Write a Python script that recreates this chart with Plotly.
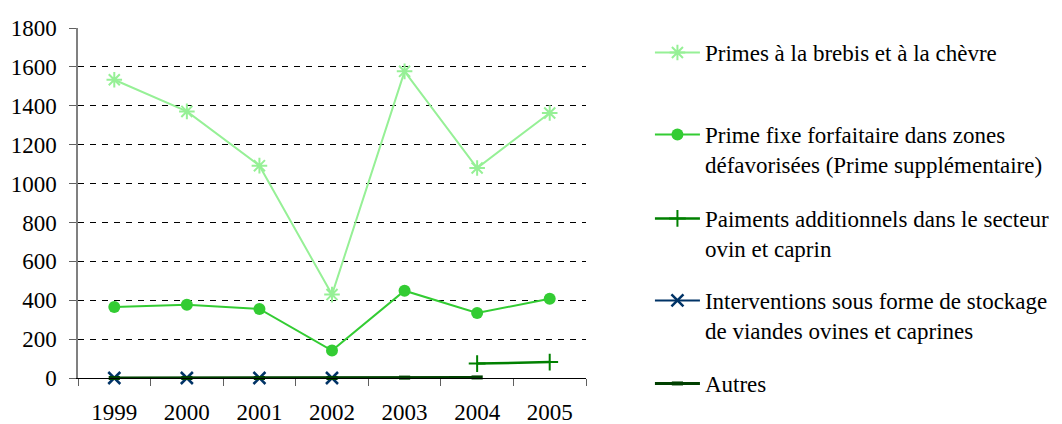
import plotly.graph_objects as go

years = ["1999", "2000", "2001", "2002", "2003", "2004", "2005"]
primes_brebis = [1534, 1371, 1092, 429, 1577, 1080, 1363]
prime_fixe = [365, 377, 355, 141, 449, 334, 408]
paiements_add = [None, None, None, None, None, 74, 82]
interventions = [0, 0, 0, 0, None, None, None]
autres = [0, 0, 0, 0, 2, 3, None]

names = [
    "Primes à la brebis et à la chèvre",
    "Prime fixe forfaitaire dans zones<br>défavorisées (Prime supplémentaire)",
    "Paiments additionnels dans le secteur<br>ovin et caprin",
    "Interventions sous forme de stockage<br>de viandes ovines et caprines",
    "Autres",
]
y_ticks = [0, 200, 400, 600, 800, 1000, 1200, 1400, 1600, 1800]

FONT = "Times New Roman, Liberation Serif, serif"
FS_TICK = 23
FS_LEG = 23

OFF = 8  # page body margin
W, H = 1062 - OFF, 424 - OFF
# plot area in window pixels
L, R, T, B = 77.5, 586, 28, 378


def py(pix):  # window pixel -> paper y
    return (B - pix) / (B - T)


def px(pix):  # window pixel -> paper x
    return (pix - L) / (R - L)


fig = go.Figure()

styles = [
    dict(color="#96F096", width=2, symbol="asterisk-open", size=13, mlw=2),
    dict(color="#33CC33", width=2, symbol="circle", size=12, mlw=0),
    dict(color="#008000", width=2.5, symbol="cross-thin-open", size=12, mlw=2),
    dict(color="#003366", width=2, symbol="x-thin-open", size=12, mlw=2.5),
    dict(color="#004000", width=3, symbol="line-ew-open", size=8, mlw=4),
]
series = [primes_brebis, prime_fixe, paiements_add, interventions, autres]
legend_ids = ["legend", "legend2", "legend3", "legend4", "legend5"]
legend_y = [52, 134, 218, 300, 383]

for s, vals, nm, lid in zip(styles, series, names, legend_ids):
    fig.add_trace(go.Scatter(
        x=years, y=vals, name=nm, mode="lines+markers",
        line=dict(color=s["color"], width=s["width"]),
        marker=dict(symbol=s["symbol"], size=s["size"], color=s["color"],
                    line=dict(color=s["color"], width=s["mlw"])),
        cliponaxis=False, connectgaps=False, legend=lid,
    ))

leg_common = dict(
    font=dict(family=FONT, size=FS_LEG, color="black"),
    bgcolor="rgba(0,0,0,0)", borderwidth=0,
    xanchor="left", yanchor="top", valign="top",
    itemwidth=45, tracegroupgap=0,
)
layout_legends = {}
for lid, ly in zip(legend_ids, legend_y):
    layout_legends[lid] = dict(x=px(650), y=py(ly - 21), **leg_common)

fig.update_layout(
    width=W, height=H,
    margin=dict(l=L - OFF, r=W - (R - OFF), t=T - OFF, b=H - (B - OFF),
                autoexpand=False),
    paper_bgcolor="white", plot_bgcolor="white",
    showlegend=True,
    font=dict(family=FONT, size=FS_TICK, color="black"),
    xaxis=dict(
        type="category", tickson="boundaries", ticks="outside", ticklen=7,
        tickcolor="#606060", tickwidth=1,
        showline=True, linecolor="black", linewidth=1,
        showgrid=False, zeroline=False, ticklabelstandoff=13,
        tickfont=dict(family=FONT, size=FS_TICK, color="black"),
        range=[-0.5, 6.5],
    ),
    yaxis=dict(
        range=[0, 1800], tickvals=y_ticks, ticks="outside", ticklen=7,
        tickcolor="#606060", tickwidth=1,
        showline=True, linecolor="#808080", linewidth=1.5,
        showgrid=True, gridcolor="black", gridwidth=1, griddash="6px,6px",
        zeroline=False, ticklabelstandoff=8,
        tickfont=dict(family=FONT, size=FS_TICK, color="black"),
    ),
    **layout_legends,
)

fig.write_html("out.html")
